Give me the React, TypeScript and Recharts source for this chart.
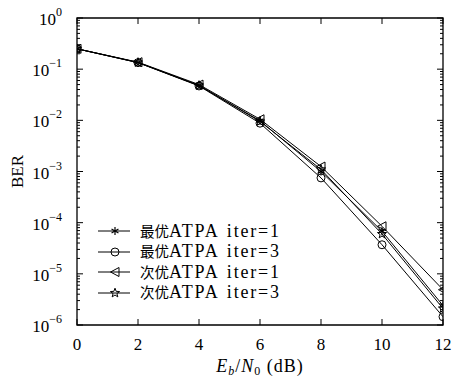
import React from 'react';
import { LineChart, Line, XAxis, YAxis, ReferenceArea, Legend } from 'recharts';

const ebn0 = [0, 2, 4, 6, 8, 10, 12];
const optIter1 = [0.25, 0.135, 0.048, 0.0098, 1.0e-3, 6.8e-5, 2.4e-6];
const optIter3 = [0.25, 0.134, 0.047, 0.0088, 7.5e-4, 3.7e-5, 1.45e-6];
const subIter1 = [0.25, 0.137, 0.05, 0.0105, 1.25e-3, 8.5e-5, 4.9e-6];
const subIter3 = [0.25, 0.135, 0.048, 0.0095, 1.1e-3, 6.0e-5, 2.1e-6];
const seriesNames = ['最优ATPA iter=1', '最优ATPA iter=3', '次优ATPA iter=1', '次优ATPA iter=3'];
const seriesKeys = ['opt1', 'opt3', 'sub1', 'sub3'];
const markerKinds = ['asterisk', 'circle', 'triangle', 'star'];

const xTicks = [0, 2, 4, 6, 8, 10, 12];
const yDecadeExps = [-6, -5, -4, -3, -2, -1, 0];
const yMinorMult = [2, 3, 4, 5, 6, 7, 8, 9];

const yTicks: number[] = [];
yDecadeExps.forEach((e) => {
  yTicks.push(Math.pow(10, e));
  if (e < 0) yMinorMult.forEach((m) => yTicks.push(m * Math.pow(10, e)));
});

const data = ebn0.map((x, i) => ({
  x,
  opt1: optIter1[i],
  opt3: optIter3[i],
  sub1: subIter1[i],
  sub3: subIter3[i],
}));

const W = 454;
const H = 380;
const PL = 77;
const PR = 443;
const PT = 18;
const PB = 325;
const FONT = "'Liberation Serif', 'Times New Roman', 'Noto Sans CJK SC', serif";

function Marker({ kind, cx, cy }: { kind: string; cx: number; cy: number }) {
  const s = '#000';
  if (kind === 'circle') {
    return <circle cx={cx} cy={cy} r={4} fill="none" stroke={s} strokeWidth={1} />;
  }
  if (kind === 'triangle') {
    const pts = `${cx - 4.5},${cy} ${cx + 4},${cy - 4.5} ${cx + 4},${cy + 4.5}`;
    return <polygon points={pts} fill="none" stroke={s} strokeWidth={1} />;
  }
  if (kind === 'star') {
    const pts: string[] = [];
    for (let k = 0; k < 10; k++) {
      const r = k % 2 === 0 ? 4.8 : 2;
      const a = -Math.PI / 2 + (k * Math.PI) / 5;
      pts.push(`${cx + r * Math.cos(a)},${cy + r * Math.sin(a)}`);
    }
    return <polygon points={pts.join(' ')} fill="none" stroke={s} strokeWidth={1} />;
  }
  const r = 4;
  const lines = [0, 60, 120].map((deg) => {
    const a = (deg * Math.PI) / 180 + Math.PI / 2;
    return (
      <line
        key={deg}
        x1={cx - r * Math.cos(a)}
        y1={cy - r * Math.sin(a)}
        x2={cx + r * Math.cos(a)}
        y2={cy + r * Math.sin(a)}
        stroke={s}
        strokeWidth={1.2}
      />
    );
  });
  return <g>{lines}</g>;
}

const makeDot = (kind: string) => (props: any) => {
  const { cx, cy, index } = props;
  if (cx == null || cy == null) return <g key={`${kind}-${index}`} />;
  return (
    <g key={`${kind}-${index}`}>
      <Marker kind={kind} cx={cx} cy={cy} />
    </g>
  );
};

const XTick = (props: any) => {
  const { x, payload } = props;
  return (
    <g>
      <line x1={x} y1={PB} x2={x} y2={PB - 6} stroke="#000" />
      <line x1={x} y1={PT} x2={x} y2={PT + 6} stroke="#000" />
      <text x={x} y={PB + 25} textAnchor="middle" fontSize={17} fontFamily={FONT} fill="#000">
        {payload.value}
      </text>
    </g>
  );
};

const YTick = (props: any) => {
  const { y, payload } = props;
  const v = payload.value as number;
  const lg = Math.log10(v);
  const major = Math.abs(lg - Math.round(lg)) < 1e-6;
  const len = major ? 6 : 3;
  const e = Math.round(lg);
  return (
    <g>
      <line x1={PL} y1={y} x2={PL + len} y2={y} stroke="#000" />
      <line x1={PR} y1={y} x2={PR - len} y2={y} stroke="#000" />
      {major && (
        <text x={PL - 15} y={y + 7} textAnchor="end" fontSize={17} fontFamily={FONT} fill="#000">
          <tspan>10</tspan>
          <tspan dy={-9} fontSize={12}>{e < 0 ? `\u2212${-e}` : `${e}`}</tspan>
        </text>
      )}
    </g>
  );
};

const splitName = (name: string) => {
  const m = name.match(/^([^A-Za-z]*)(.*)$/);
  return m ? [m[1], m[2]] : ['', name];
};

const LegendContent = () => (
  <div style={{ fontFamily: FONT, color: '#000' }}>
    {seriesNames.map((name, i) => {
      const [cjk, rest] = splitName(name);
      return (
        <div key={name} style={{ display: 'flex', alignItems: 'center', height: 20.5 }}>
          <svg width={42} height={20} style={{ display: 'block' }}>
            <line x1={0} y1={10} x2={32} y2={10} stroke="#000" strokeWidth={1} />
            <Marker kind={markerKinds[i]} cx={17} cy={10} />
          </svg>
          <span style={{ whiteSpace: 'nowrap', lineHeight: '20px' }}>
            <span style={{ fontSize: 14.5 }}>{cjk}</span>
            <span style={{ fontSize: 18, letterSpacing: 1.8, wordSpacing: 2 }}>{rest}</span>
          </span>
        </div>
      );
    })}
  </div>
);

export default function App() {
  return (
    <div style={{ position: 'absolute', left: 0, top: 0, width: W, height: H, background: '#fff' }}>
      <LineChart
        width={W}
        height={H}
        data={data}
        margin={{ top: PT, right: W - PR, bottom: 25, left: PL - 60 }}
        style={{ fontFamily: FONT }}
      >
        <XAxis
          dataKey="x"
          type="number"
          domain={[0, 12]}
          ticks={xTicks}
          allowDataOverflow
          height={30}
          axisLine={false}
          tickLine={false}
          tick={<XTick />}
          interval={0}
          label={{
            content: () => (
              <text
                x={(PL + PR) / 2}
                y={PB + 47}
                textAnchor="middle"
                fontSize={18}
                fontFamily={FONT}
                fill="#000"
                letterSpacing={1}
              >
                <tspan fontStyle="italic">E</tspan>
                <tspan fontSize={12} fontStyle="italic" dy={3}>b</tspan>
                <tspan dy={-3}>/</tspan>
                <tspan fontStyle="italic">N</tspan>
                <tspan fontSize={12} dy={3}>0</tspan>
                <tspan dy={-3}>{'\u00a0(dB)'}</tspan>
              </text>
            ),
          }}
        />
        <YAxis
          type="number"
          scale="log"
          domain={[1e-6, 1]}
          ticks={yTicks}
          allowDataOverflow
          width={60}
          axisLine={false}
          tickLine={false}
          tick={<YTick />}
          interval={0}
          label={{
            content: () => (
              <text
                x={18}
                y={(PT + PB) / 2}
                textAnchor="middle"
                fontSize={17}
                fontFamily={FONT}
                fill="#000"
                transform={`rotate(-90, 18, ${(PT + PB) / 2})`}
                dy={5}
              >
                BER
              </text>
            ),
          }}
        />
        <ReferenceArea x1={0} x2={12} y1={1e-6} y2={1} fill="none" stroke="#000" strokeWidth={1.3} ifOverflow="visible" />
        {seriesKeys.map((k, i) => (
          <Line
            key={k}
            dataKey={k}
            name={seriesNames[i]}
            type="linear"
            stroke="#000"
            strokeWidth={1}
            dot={makeDot(markerKinds[i])}
            activeDot={false}
            isAnimationActive={false}
          />
        ))}
        <Legend
          layout="horizontal"
          verticalAlign="middle"
          align="center"
          content={<LegendContent />}
          wrapperStyle={{ left: 98, top: 221, width: 260, height: 84 }}
        />
      </LineChart>
    </div>
  );
}
